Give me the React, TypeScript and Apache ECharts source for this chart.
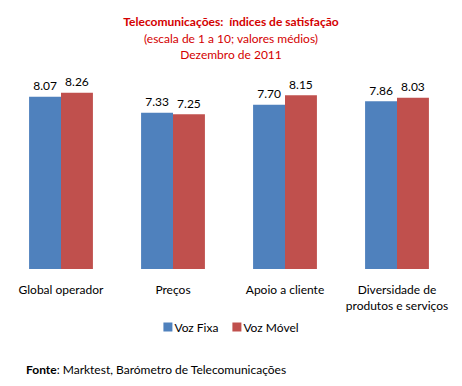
import React, { useEffect, useRef } from "react";
import * as echarts from "echarts";

const categories = ["Global operador", "Preços", "Apoio a cliente", "Diversidade de\nprodutos e serviços"];
const vozFixa = [8.07, 7.33, 7.70, 7.86];
const vozMovel = [8.26, 7.25, 8.15, 8.03];
const seriesNames = ["Voz Fixa", "Voz Móvel"];

const FONT = "Lato, 'Open Sans', sans-serif";

export default function App() {
  const ref = useRef<HTMLDivElement>(null);
  useEffect(() => {
    if (!ref.current) return;
    const chart = echarts.init(ref.current, null, { renderer: "svg" });
    const label = {
      show: true,
      position: "top" as const,
      distance: 5,
      color: "#000",
      fontSize: 12,
      fontFamily: FONT,
      formatter: (p: any) => Number(p.value).toFixed(2),
    };
    chart.setOption({
      animation: false,
      backgroundColor: "#ffffff",
      textStyle: { fontFamily: FONT },
      title: {
        text: "Telecomunicações:  índices de satisfação",
        subtext: "(escala de 1 a 10; valores médios)\nDezembro de 2011",
        left: "center",
        top: 10,
        itemGap: 3,
        textStyle: { color: "#D40000", fontSize: 12, fontWeight: "bold", fontFamily: FONT },
        subtextStyle: { color: "#D40000", fontSize: 12, lineHeight: 16, fontFamily: FONT },
      },
      legend: {
        data: seriesNames,
        bottom: 48,
        left: "center",
        itemWidth: 9,
        itemHeight: 9,
        itemGap: 14,
        icon: "rect",
        textStyle: { color: "#000", fontSize: 12, fontFamily: FONT, padding: [0, 0, 0, -3] },
      },
      grid: { left: 5, right: 9, top: 77, bottom: 117, containLabel: false },
      xAxis: {
        type: "category",
        data: categories,
        axisLine: { show: false },
        axisTick: { show: false },
        axisLabel: { color: "#000", fontSize: 12, fontFamily: FONT, margin: 12, lineHeight: 16, interval: 0 },
      },
      yAxis: {
        type: "value",
        min: 0,
        max: 9,
        show: false,
        splitLine: { show: false },
      },
      series: [
        {
          name: seriesNames[0],
          type: "bar",
          data: vozFixa,
          barGap: "0%",
          barCategoryGap: "43%",
          itemStyle: { color: "#4F81BD" },
          label,
        },
        {
          name: seriesNames[1],
          type: "bar",
          data: vozMovel,
          itemStyle: { color: "#C0504D" },
          label,
        },
      ],
      graphic: [
        {
          type: "text",
          left: 26,
          top: 363,
          style: {
            text: "{b|Fonte}: Marktest, Barómetro de Telecomunicações",
            fill: "#000",
            fontSize: 12,
            fontFamily: FONT,
            rich: { b: { fontWeight: "bold", fontSize: 12, fontFamily: FONT, fill: "#000" } },
          },
        },
      ],
    });
    return () => chart.dispose();
  }, []);
  return <div ref={ref} style={{ position: "absolute", left: 0, top: 0, width: 462, height: 386 }} />;
}
